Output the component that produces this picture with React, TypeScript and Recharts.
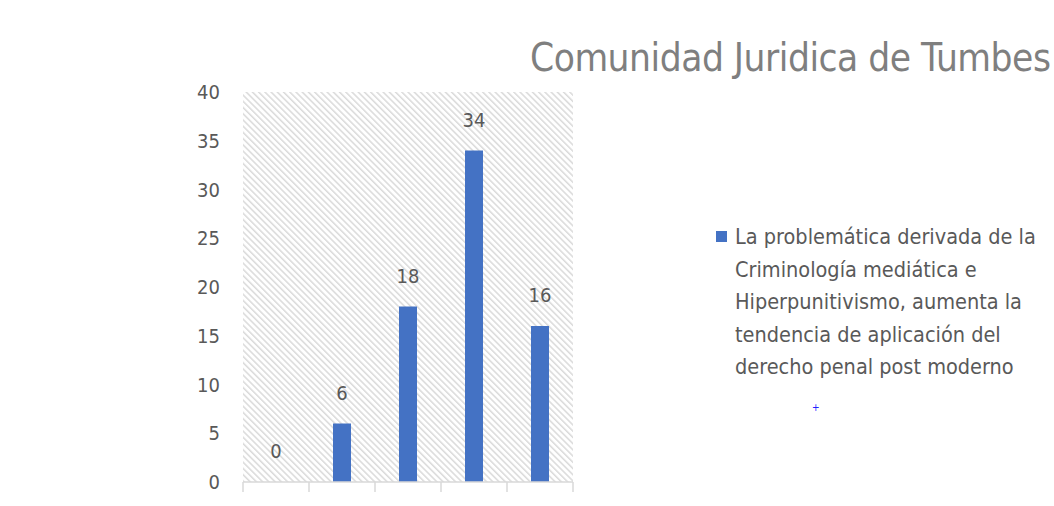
import React from 'react';
import { ComposedChart, Bar, Line, XAxis, YAxis, CartesianGrid, Legend } from 'recharts';

const categories = ['Categoría 1', 'Categoría 2', 'Categoría 3', 'Categoría 4', 'Categoría 5'];
const values = [0, 6, 18, 34, 16];
const yTicks = [0, 5, 10, 15, 20, 25, 30, 35, 40];
const title = 'Comunidad Juridica de Tumbes';
const seriesName =
  'La problemática derivada de la Criminología mediática e Hiperpunitivismo, aumenta la tendencia de aplicación del derecho penal post moderno';
const legendLines = [
  'La problemática derivada de la',
  'Criminología mediática e',
  'Hiperpunitivismo, aumenta la',
  'tendencia de aplicación del',
  'derecho penal post moderno',
];

const data = categories.map((c, i) => ({ name: c, value: values[i] }));

const FONT = '"Liberation Sans Narrow", "DejaVu Sans Condensed", "Liberation Sans", Arial, sans-serif';
const TEXT = '#595959';
const BLUE = '#4472C4';
const AXIS = '#d9d9d9';

const renderLabel = (props: any) => {
  const { x, y, value } = props;
  return (
    <text x={x} y={y - 24} textAnchor="middle" fill={TEXT} fontSize={20} fontFamily={FONT}>
      {value}
    </text>
  );
};

const BoundaryTick = (props: any) => {
  const { x, y, payload, index, visibleTicksCount } = props;
  const off = payload && payload.offset != null ? payload.offset : 0;
  const isLast = index === visibleTicksCount - 1;
  return (
    <g>
      <line x1={x - off} y1={y} x2={x - off} y2={y + 10} stroke={AXIS} strokeWidth={1.5} />
      {isLast && <line x1={x + off} y1={y} x2={x + off} y2={y + 10} stroke={AXIS} strokeWidth={1.5} />}
    </g>
  );
};

const LegendContent = () => (
  <div style={{ fontFamily: FONT, color: TEXT, fontSize: 21.5, lineHeight: '32.5px', position: 'relative' }}>
    <span
      style={{ position: 'absolute', left: 0, top: 10, width: 11, height: 11, background: BLUE }}
    />
    <div style={{ paddingLeft: 19 }} title={seriesName}>
      {legendLines.map((l, i) => (
        <div key={i} style={{ whiteSpace: 'nowrap' }}>{l}</div>
      ))}
    </div>
    <div style={{ color: '#2020ff', fontSize: 10, lineHeight: '10px', marginLeft: 96, marginTop: 19 }}>+</div>
  </div>
);

export default function App() {
  return (
    <div style={{ position: 'absolute', left: 0, top: 0, width: 1054, height: 506, background: '#fff' }}>
      <div
        style={{
          position: 'absolute',
          left: 530,
          top: 35,
          fontFamily: FONT,
          fontSize: 38.5,
          color: '#7f7f7f',
          whiteSpace: 'nowrap',
          lineHeight: '46px',
          letterSpacing: -0.5,
        }}
      >
        {title}
      </div>
      <ComposedChart
        width={1054}
        height={506}
        data={data}
        margin={{ top: 92, right: 481, bottom: 0, left: 183 }}
        barSize={18}
      >
        <defs>
          <pattern id="hatch" patternUnits="userSpaceOnUse" width={4.4} height={4.4} patternTransform="rotate(45)">
            <rect width={4.4} height={4.4} fill="#ffffff" />
            <line x1={0} y1={1} x2={4.4} y2={1} stroke="#dadada" strokeWidth={1.5} />
          </pattern>
        </defs>
        <CartesianGrid horizontal={false} vertical={false} fill="url(#hatch)" fillOpacity={1} />
        <XAxis
          dataKey="name"
          axisLine={{ stroke: AXIS, strokeWidth: 1.5 }}
          tickLine={false}
          tickSize={0}
          tickMargin={0}
          interval={0}
          tick={<BoundaryTick />}
          height={24}
        />
        <YAxis
          domain={[0, 40]}
          ticks={yTicks}
          axisLine={false}
          tickLine={false}
          tickSize={0}
          tickMargin={23}
          width={60}
          interval={0}
          tick={{ fill: TEXT, fontSize: 20, fontFamily: FONT }}
        />
        <Legend
          layout="vertical"
          align="center"
          verticalAlign="middle"
          content={<LegendContent />}
          wrapperStyle={{ position: 'absolute', left: 716, top: 221, width: 338 }}
        />
        <Bar dataKey="value" name={seriesName} fill={BLUE} isAnimationActive={false} />
        <Line
          dataKey="value"
          legendType="none"
          stroke="none"
          dot={false}
          activeDot={false}
          label={renderLabel}
          isAnimationActive={false}
        />
      </ComposedChart>
    </div>
  );
}
